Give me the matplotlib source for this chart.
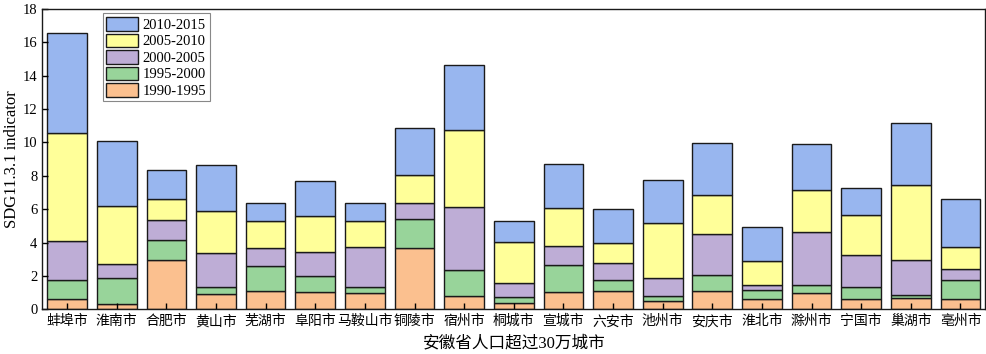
import numpy as np
import matplotlib
matplotlib.use("Agg")
import matplotlib.pyplot as plt

plt.rcParams['font.family'] = ['Liberation Serif', 'Noto Sans CJK SC']

cities = ['蚌埠市', '淮南市', '合肥市', '黄山市', '芜湖市', '阜阳市', '马鞍山市', '铜陵市',
          '宿州市', '桐城市', '宣城市', '六安市', '池州市', '安庆市', '淮北市', '滁州市',
          '宁国市', '巢湖市', '亳州市']

# cumulative tops
top_1995 = [0.60, 0.34, 2.98, 0.94, 1.10, 1.02, 0.96, 3.68, 0.80, 0.36, 1.04, 1.12, 0.48, 1.08, 0.64, 1.00, 0.62, 0.70, 0.60]
top_2000 = [1.74, 1.86, 4.18, 1.32, 2.60, 2.00, 1.36, 5.39, 2.34, 0.74, 2.64, 1.74, 0.78, 2.04, 1.18, 1.44, 1.32, 0.88, 1.74]
top_2005 = [4.12, 2.70, 5.33, 3.36, 3.70, 3.42, 3.76, 6.37, 6.13, 1.60, 3.82, 2.76, 1.88, 4.50, 1.44, 4.62, 3.24, 2.96, 2.40]
top_2010 = [10.59, 6.17, 6.63, 5.91, 5.29, 5.57, 5.31, 8.05, 10.73, 4.02, 6.09, 3.98, 5.17, 6.85, 2.88, 7.13, 5.67, 7.43, 3.76]
top_2015 = [16.54, 10.09, 8.33, 8.63, 6.39, 7.69, 6.35, 10.89, 14.63, 5.27, 8.69, 5.99, 7.73, 9.95, 4.92, 9.89, 7.29, 11.17, 6.59]

periods = ['1990-1995', '1995-2000', '2000-2005', '2005-2010', '2010-2015']
colors = ['#fbc08f', '#98d49a', '#beadd6', '#ffff99', '#98b6ef']

tops = np.array([top_1995, top_2000, top_2005, top_2010, top_2015])
bottoms = np.vstack([np.zeros(len(cities)), tops[:-1]])
heights = tops - bottoms

fig = plt.figure(figsize=(9.86, 3.54), dpi=100)
ax = fig.add_axes([0.0429, 0.1263, 0.9564, 0.8483])

x = np.arange(len(cities))
handles = []
for i in range(5):
    h = ax.bar(x, heights[i], bottom=bottoms[i], width=0.8, color=colors[i],
               edgecolor='#1a1a1a', linewidth=1.0, label=periods[i])
    handles.append(h)

ax.set_xlim(-0.5, len(cities) - 0.5)
ax.set_ylim(0, 18)
ax.set_yticks(np.arange(0, 19, 2))
ax.set_xticks(x)
ax.set_xticklabels(cities)
ax.tick_params(axis='both', direction='in', length=4, width=1, labelsize=10.5)
ax.tick_params(axis='x', labelsize=10, pad=4)
ax.set_ylabel('SDG11.3.1 indicator', fontsize=12, labelpad=2)
ax.set_xlabel('安徽省人口超过30万城市', fontsize=12, labelpad=5)
for s in ax.spines.values():
    s.set_linewidth(1.0)
    s.set_color('#1a1a1a')

leg = ax.legend(handles[::-1], periods[::-1], loc='upper left', bbox_to_anchor=(0.064, 0.985),
                fontsize=10.5, fancybox=False, edgecolor='#888888', framealpha=1,
                handlelength=2.2, handleheight=1.05, labelspacing=0.12,
                handletextpad=0.3, borderpad=0.25, borderaxespad=0)
leg.get_frame().set_linewidth(0.8)

fig.savefig('out.png', dpi=100)
